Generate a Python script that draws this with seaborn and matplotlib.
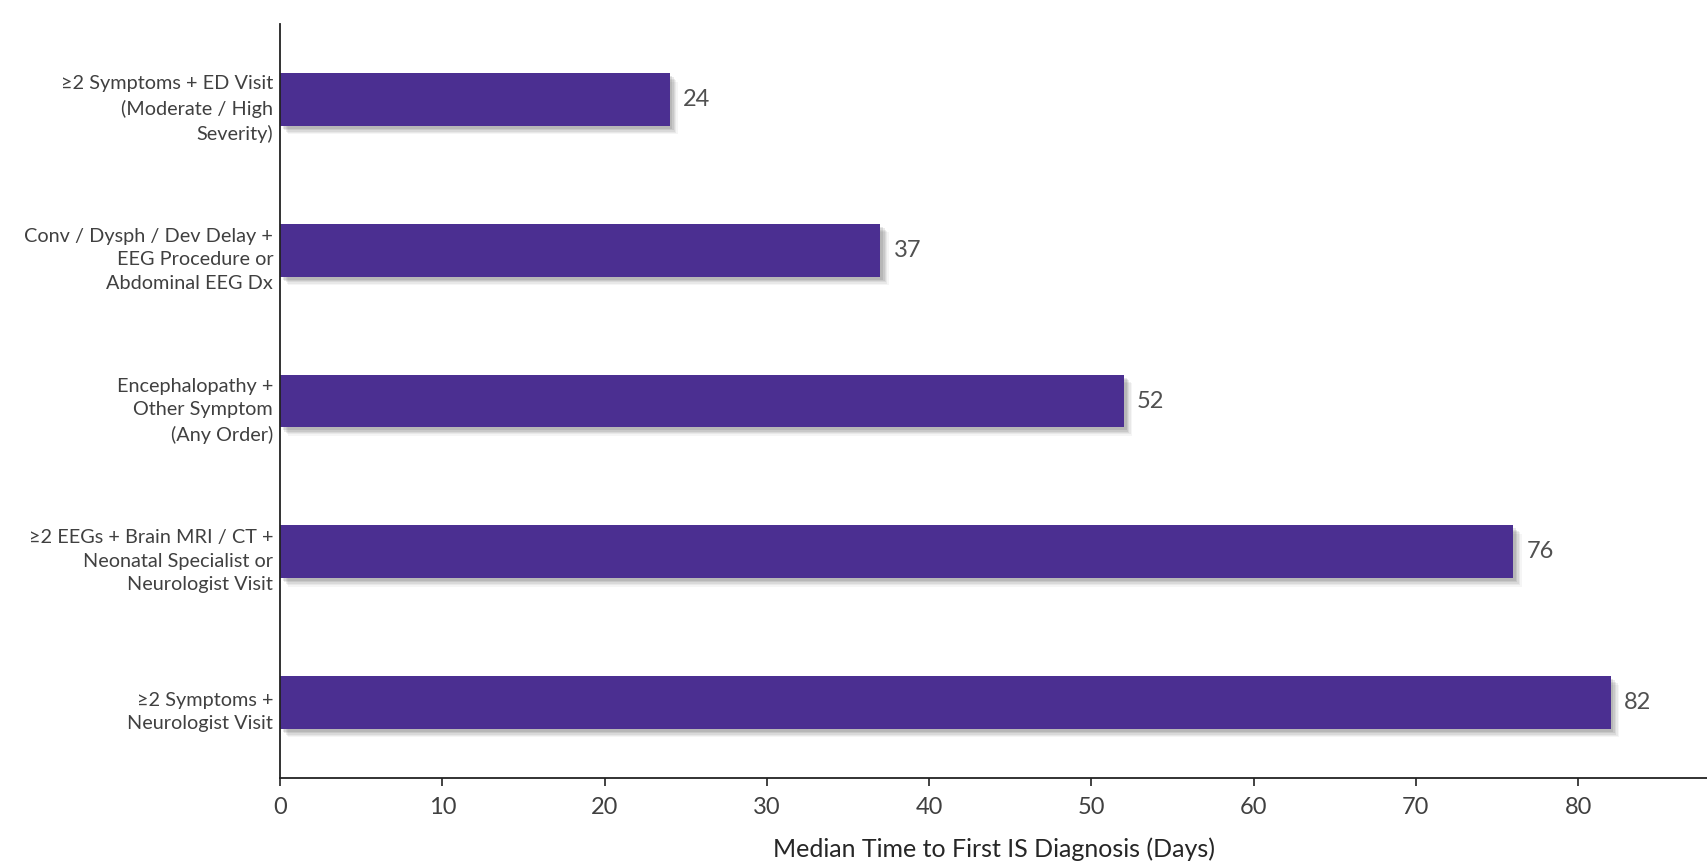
import matplotlib
matplotlib.use("Agg")
import matplotlib.pyplot as plt
import matplotlib.patheffects as pe
import matplotlib.transforms as mtransforms
import seaborn as sns
import pandas as pd

categories = [
    "≥2 Symptoms + ED Visit\n(Moderate / High\nSeverity)",
    "Conv / Dysph / Dev Delay +\nEEG Procedure or\nAbdominal EEG Dx",
    "Encephalopathy +\nOther Symptom\n(Any Order)",
    "≥2 EEGs + Brain MRI / CT +\nNeonatal Specialist or\nNeurologist Visit",
    "≥2 Symptoms +\nNeurologist Visit",
]
median_days = [24, 37, 52, 76, 82]
x_ticks = [0, 10, 20, 30, 40, 50, 60, 70, 80]
x_label = "Median Time to First IS Diagnosis (Days)"

bar_color = "#4B2F91"
text_color = "#404040"

sns.set_theme(style="white")
plt.rcParams["font.family"] = ["Lato", "DejaVu Sans"]

df = pd.DataFrame({"category": categories, "days": median_days})

fig = plt.figure(figsize=(17.08, 8.67), dpi=100)
ax = fig.add_axes([0.164, 0.1027, 0.836, 0.8693])

sns.barplot(data=df, x="days", y="category", color=bar_color, saturation=1,
            width=0.35, ax=ax, orient="h")

# soft drop shadow: several faint offset copies stacked under each bar
shadow_layers = [
    pe.SimplePatchShadow(offset=(d, -d), shadow_rgbFace="#555555", alpha=a)
    for d, a in [(6, 0.06), (5, 0.08), (4, 0.10), (3, 0.12), (2, 0.14)]
]
for patch in ax.patches:
    patch.set_edgecolor("none")
    patch.set_path_effects(shadow_layers + [pe.Normal()])

for i, v in enumerate(median_days):
    ax.text(v + 0.8, i, f"{v}", va="center", ha="left", fontsize=17, color="#505050")

ax.set_xlim(0, 88)
ax.set_ylim(4.5, -0.5)
ax.set_xticks(x_ticks)
ax.set_xticklabels([str(t) for t in x_ticks], fontsize=17, color=text_color)
ax.set_yticks(range(len(categories)))
ax.set_yticklabels(categories, fontsize=14.3, color=text_color, linespacing=1.48)
ax.set_xlabel(x_label, fontsize=18, color="#262626", labelpad=14)
ax.set_ylabel("")

for side in ("top", "right"):
    ax.spines[side].set_visible(False)
for side in ("left", "bottom"):
    ax.spines[side].set_color("#222222")
    ax.spines[side].set_linewidth(1.3)

ax.tick_params(axis="x", direction="out", length=6, width=1.2, color="#222222", pad=8,
               bottom=True)
ax.tick_params(axis="y", length=0, pad=5)

# nudge the category labels slightly downward
nudge = mtransforms.ScaledTranslation(0, -4.5 / 100, fig.dpi_scale_trans)
for tick in ax.yaxis.get_major_ticks():
    tick.label1.set_transform(tick.label1.get_transform() + nudge)

fig.savefig("out.png", dpi=100, facecolor="white")
